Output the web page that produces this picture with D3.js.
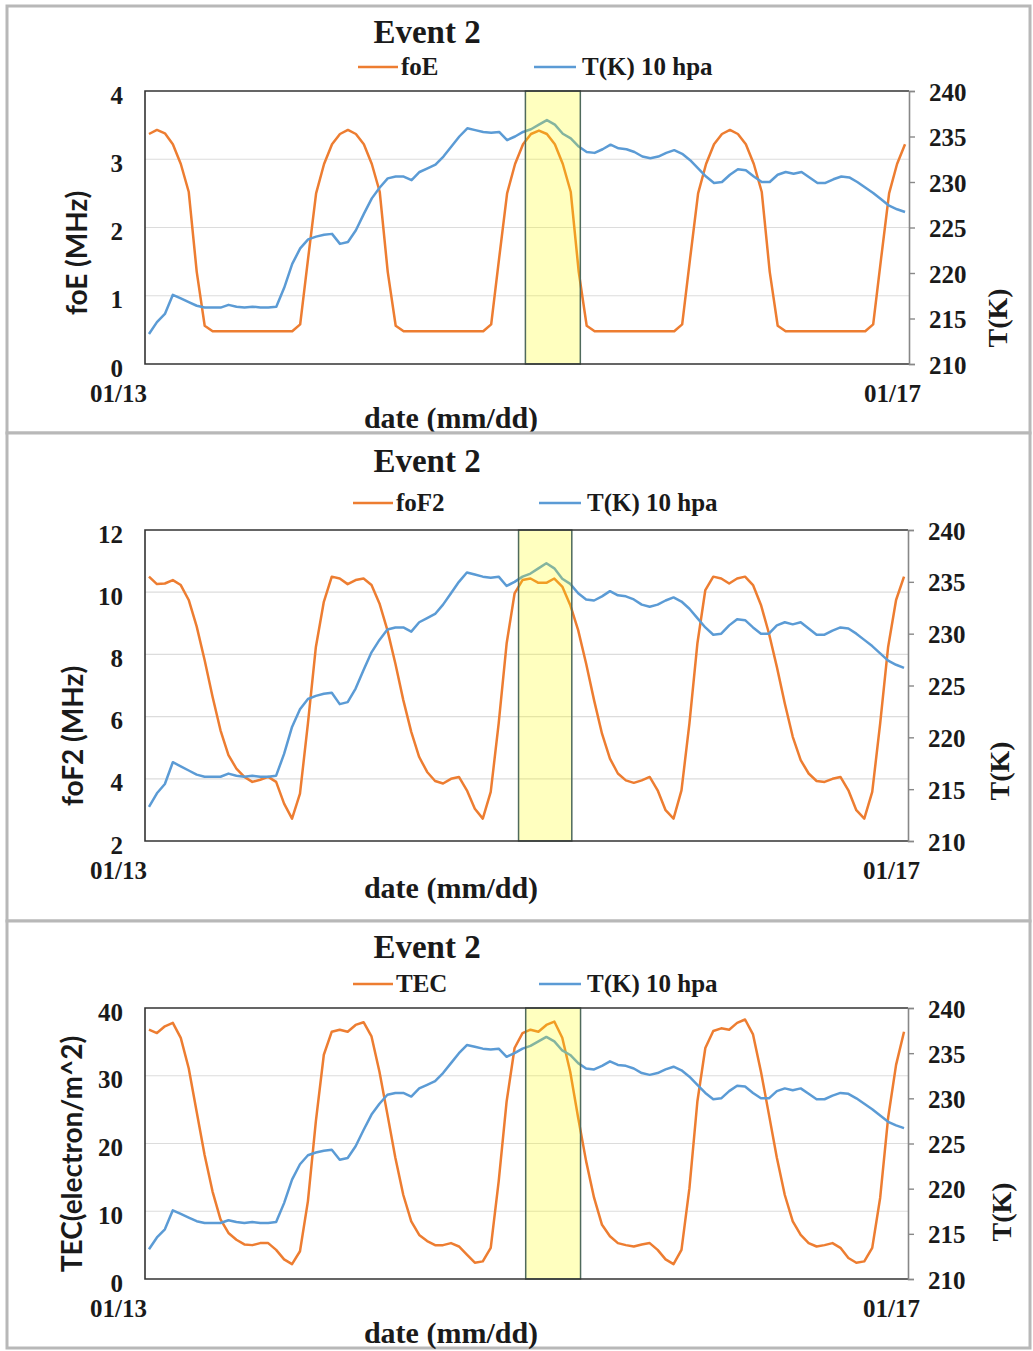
<!DOCTYPE html>
<html>
<head>
<meta charset="utf-8">
<script src="https://cdn.jsdelivr.net/npm/d3@7"></script>
<style>
  body { margin: 0; background: #fff; }
  text { font-family: "Liberation Serif", "Times New Roman", serif; font-weight: bold; fill: #1a1a1a; }
  .sans { font-family: Lato, "Open Sans", sans-serif; }
</style>
</head>
<body>
<svg id="chart" width="1033" height="1351"></svg>
<script>
// hourly samples, 01/13 00h -> 01/16 23h
let hours = d3.range(96);
let dateTicks = [0, 96];
let dateLabels = ["01/13", "01/17"];

let tempTicks = [210, 215, 220, 225, 230, 235, 240];
let tempK = [213.3, 214.6, 215.5, 217.6, 217.2, 216.8, 216.4, 216.2, 216.2, 216.2,
  216.5, 216.3, 216.2, 216.3, 216.2, 216.2, 216.3, 218.4, 221.0, 222.7,
  223.7, 224.0, 224.2, 224.3, 223.2, 223.4, 224.7, 226.5, 228.2, 229.4,
  230.4, 230.6, 230.6, 230.2, 231.1, 231.5, 231.9, 232.8, 233.9, 235.0,
  235.9, 235.7, 235.5, 235.4, 235.5, 234.6, 235.0, 235.5, 235.8, 236.3,
  236.8, 236.3, 235.3, 234.8, 233.9, 233.3, 233.2, 233.6, 234.1, 233.7,
  233.6, 233.3, 232.8, 232.6, 232.8, 233.2, 233.5, 233.1, 232.4, 231.5,
  230.6, 229.9, 230.0, 230.8, 231.4, 231.3, 230.6, 230.0, 230.0, 230.8,
  231.1, 230.9, 231.1, 230.5, 229.9, 229.9, 230.3, 230.6, 230.5, 230.0,
  229.4, 228.8, 228.1, 227.4, 227.0, 226.7];

let foETicks = [0, 1, 2, 3, 4];
let foE = [3.37, 3.43, 3.38, 3.22, 2.93, 2.52, 1.35, 0.56, 0.48, 0.48,
  0.48, 0.48, 0.48, 0.48, 0.48, 0.48, 0.48, 0.48, 0.48, 0.58,
  1.55, 2.5, 2.93, 3.22, 3.37, 3.43, 3.37, 3.22, 2.93, 2.52,
  1.35, 0.56, 0.48, 0.48, 0.48, 0.48, 0.48, 0.48, 0.48, 0.48,
  0.48, 0.48, 0.48, 0.58, 1.55, 2.5, 2.93, 3.22, 3.37, 3.42,
  3.37, 3.22, 2.93, 2.52, 1.35, 0.56, 0.48, 0.48, 0.48, 0.48,
  0.48, 0.48, 0.48, 0.48, 0.48, 0.48, 0.48, 0.58, 1.55, 2.5,
  2.93, 3.22, 3.37, 3.43, 3.37, 3.22, 2.93, 2.52, 1.35, 0.56,
  0.48, 0.48, 0.48, 0.48, 0.48, 0.48, 0.48, 0.48, 0.48, 0.48,
  0.48, 0.58, 1.55, 2.5, 2.93, 3.22];

let foF2Ticks = [2, 4, 6, 8, 10, 12];
let foF2 = [10.5, 10.26, 10.28, 10.39, 10.23, 9.75, 8.9, 7.82, 6.64, 5.56,
  4.76, 4.33, 4.06, 3.9, 3.97, 4.06, 3.9, 3.2, 2.72, 3.52,
  5.78, 8.24, 9.69, 10.5, 10.44, 10.26, 10.39, 10.44, 10.23, 9.64,
  8.78, 7.71, 6.53, 5.51, 4.7, 4.22, 3.93, 3.85, 4.0, 4.06,
  3.63, 3.04, 2.72, 3.58, 5.78, 8.35, 9.96, 10.39, 10.44, 10.3,
  10.3, 10.44, 10.18, 9.59, 8.78, 7.71, 6.53, 5.45, 4.65, 4.17,
  3.95, 3.87, 3.95, 4.06, 3.63, 2.99, 2.72, 3.63, 5.78, 8.35,
  10.07, 10.5, 10.44, 10.28, 10.44, 10.5, 10.23, 9.59, 8.68, 7.6,
  6.42, 5.35, 4.6, 4.17, 3.93, 3.9, 4.0, 4.06, 3.63, 2.99,
  2.72, 3.58, 5.78, 8.24, 9.75, 10.5];

let tecTicks = [0, 10, 20, 30, 40];
let tec = [36.8, 36.3, 37.3, 37.8, 35.6, 31.1, 24.7, 18.3, 12.9, 8.8,
  6.8, 5.8, 5.1, 5.0, 5.3, 5.3, 4.3, 2.9, 2.2, 4.1,
  11.5, 23.3, 33.1, 36.5, 36.8, 36.5, 37.5, 37.9, 35.8, 30.6,
  24.3, 17.9, 12.4, 8.5, 6.5, 5.6, 5.0, 5.0, 5.3, 4.8,
  3.6, 2.4, 2.6, 4.6, 14.4, 26.2, 34.1, 36.3, 36.8, 36.5,
  37.5, 38.0, 35.6, 30.6, 23.8, 17.4, 12.0, 8.0, 6.3, 5.3,
  5.0, 4.8, 5.1, 5.3, 4.3, 2.9, 2.2, 4.3, 13.4, 26.2,
  34.1, 36.6, 37.0, 36.8, 37.8, 38.3, 36.1, 30.6, 24.3, 17.9,
  12.4, 8.5, 6.5, 5.3, 4.8, 5.0, 5.3, 4.6, 3.1, 2.4,
  2.6, 4.6, 12.0, 23.8, 31.6, 36.5];

// highlighted window (hours) in each panel
let highlight1 = [47.8, 54.7];
let highlight2 = [47.0, 53.7];
let highlight3 = [47.9, 54.8];

let orange = "#ED7D31", blue = "#5B9BD5";

let svg = d3.select("#chart");

let panels = [
  { name: "foE", label: "foE (MHz)", values: foE, ticks: foETicks, hl: highlight1,
    frame: [7, 6, 1030, 433], plot: [145, 91, 909, 364], titleY: 43, legendY: 67, legX: [358, 534],
    ytitle: [77, 253], ttitle: [997, 318], dateY: 428 },
  { name: "foF2", label: "foF2 (MHz)", values: foF2, ticks: foF2Ticks, hl: highlight2,
    frame: [7, 433, 1030, 921], plot: [145, 530, 908, 841], titleY: 472, legendY: 503, legX: [353, 539],
    ytitle: [73, 736], ttitle: [999, 771], dateY: 898 },
  { name: "TEC", label: "TEC(electron/m^2)", values: tec, ticks: tecTicks, hl: highlight3,
    frame: [7, 921, 1030, 1348], plot: [145, 1008, 908, 1279], titleY: 958, legendY: 984, legX: [353, 539],
    ytitle: [72, 1154], ttitle: [1001, 1212], dateY: 1343 }
];

panels.forEach(drawPanel);

function drawPanel(p) {
  let [fx0, fy0, fx1, fy1] = p.frame;
  let [px0, py0, px1, py1] = p.plot;

  svg.append("rect")
    .attr("x", fx0).attr("y", fy0).attr("width", fx1 - fx0).attr("height", fy1 - fy0)
    .attr("fill", "#fff").attr("stroke", "#b8b8b8").attr("stroke-width", 3);

  let x = d3.scaleLinear().domain([0, 96]).range([px0, px1]);
  let y = d3.scaleLinear().domain(d3.extent(p.ticks)).range([py1, py0]);
  let yT = d3.scaleLinear().domain(d3.extent(tempTicks)).range([py1, py0]);

  let g = svg.append("g");

  // gridlines
  g.selectAll(".grid").data(p.ticks.slice(1, -1)).enter().append("line")
    .attr("x1", px0).attr("x2", px1)
    .attr("y1", d => y(d)).attr("y2", d => y(d))
    .attr("stroke", "#dcdcdc").attr("stroke-width", 1.2);

  g.append("path")
    .attr("d", d3.line().x((d, i) => x(hours[i] + 0.5)).y(d => y(d))(p.values))
    .attr("fill", "none").attr("stroke", orange).attr("stroke-width", 2.5)
    .attr("stroke-linejoin", "round");

  g.append("path")
    .attr("d", d3.line().x((d, i) => x(hours[i] + 0.5)).y(d => yT(d))(tempK))
    .attr("fill", "none").attr("stroke", blue).attr("stroke-width", 2.5)
    .attr("stroke-linejoin", "round");

  // highlight box
  g.append("rect")
    .attr("x", x(p.hl[0])).attr("y", py0)
    .attr("width", x(p.hl[1]) - x(p.hl[0])).attr("height", py1 - py0)
    .attr("fill", "rgba(255,255,0,0.25)").attr("stroke", "#4f6a5c").attr("stroke-width", 1.5);

  // plot frame (top, left, bottom)
  g.append("path")
    .attr("d", `M${px1},${py0}H${px0}V${py1}H${px1}`)
    .attr("fill", "none").attr("stroke", "#333").attr("stroke-width", 1.6);

  // right temperature axis
  let axR = g.append("g").attr("transform", `translate(${px1},0)`)
    .call(d3.axisRight(yT).tickValues(tempTicks).tickSize(6).tickPadding(14).tickFormat(d3.format("d")));
  axR.select(".domain").attr("stroke", "#888").attr("stroke-width", 1.6);
  axR.selectAll(".tick line").attr("stroke", "#888").attr("stroke-width", 1.4);
  axR.selectAll(".tick text").attr("font-size", 25).attr("font-family", "Liberation Serif, serif")
    .attr("font-weight", "bold").attr("fill", "#1a1a1a").attr("dy", "0.36em");

  // left axis labels
  let axL = g.append("g").attr("transform", `translate(${px0},0)`)
    .call(d3.axisLeft(y).tickValues(p.ticks).tickSize(0).tickPadding(22).tickFormat(d3.format("d")));
  axL.select(".domain").remove();
  axL.selectAll(".tick text").attr("font-size", 25).attr("font-family", "Liberation Serif, serif")
    .attr("font-weight", "bold").attr("fill", "#1a1a1a").attr("dy", "0.48em");

  // date labels
  g.selectAll(".date").data(dateTicks).enter().append("text")
    .attr("x", (d, i) => x(d) + (i === 0 ? 2 : 12))
    .attr("y", py1 + 38)
    .attr("text-anchor", "end").attr("font-size", 25)
    .text((d, i) => dateLabels[i]);

  // titles
  g.append("text").attr("x", 427).attr("y", p.titleY).attr("text-anchor", "middle")
    .attr("font-size", 33).text("Event 2");

  g.append("text").attr("x", 451).attr("y", p.dateY).attr("text-anchor", "middle")
    .attr("font-size", 30).text("date (mm/dd)");

  g.append("text").attr("class", "sans")
    .attr("transform", `translate(${p.ytitle[0] + 10},${p.ytitle[1]}) rotate(-90)`)
    .attr("text-anchor", "middle").attr("font-size", 28).text(p.label);

  g.append("text")
    .attr("transform", `translate(${p.ttitle[0] + 10},${p.ttitle[1]}) rotate(-90)`)
    .attr("text-anchor", "middle").attr("font-size", 28).text("T(K)");

  // legend
  let ly = p.legendY;
  g.append("line").attr("x1", p.legX[0]).attr("x2", p.legX[0] + 40).attr("y1", ly).attr("y2", ly)
    .attr("stroke", orange).attr("stroke-width", 2.5);
  g.append("text").attr("x", p.legX[0] + 43).attr("y", ly + 8).attr("font-size", 25).text(p.name);
  g.append("line").attr("x1", p.legX[1]).attr("x2", p.legX[1] + 42).attr("y1", ly).attr("y2", ly)
    .attr("stroke", blue).attr("stroke-width", 2.5);
  g.append("text").attr("x", p.legX[1] + 48).attr("y", ly + 8).attr("font-size", 25).text("T(K) 10 hpa");
}
</script>
</body>
</html>
